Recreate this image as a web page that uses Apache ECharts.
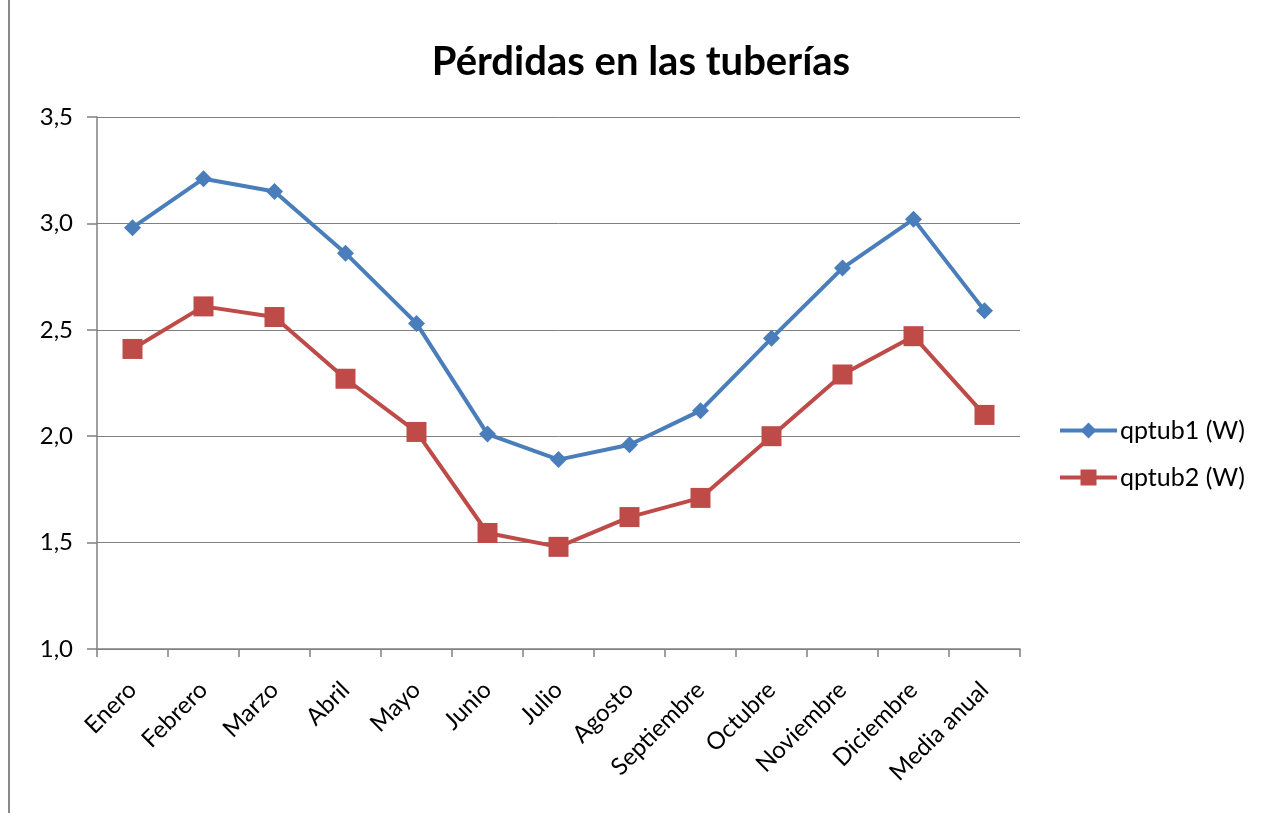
<!DOCTYPE html>
<html>
<head>
<meta charset="utf-8">
<script src="https://cdn.jsdelivr.net/npm/echarts@6/dist/echarts.min.js"></script>
<style>
  html, body { margin: 0; padding: 0; background: #fff; }
  #chart { height: 813px; box-sizing: border-box; border-left: 2px solid #888; margin-left: 8px; width: 1259px; }
</style>
</head>
<body>
<div id="chart"></div>
<script>
var months = ['Enero', 'Febrero', 'Marzo', 'Abril', 'Mayo', 'Junio', 'Julio', 'Agosto', 'Septiembre', 'Octubre', 'Noviembre', 'Diciembre', 'Media anual'];
var qptub1 = [2.98, 3.21, 3.15, 2.86, 2.53, 2.01, 1.89, 1.96, 2.12, 2.46, 2.79, 3.02, 2.59];
var qptub2 = [2.41, 2.61, 2.56, 2.27, 2.02, 1.545, 1.48, 1.62, 1.71, 2.0, 2.29, 2.47, 2.10];

var myChart = echarts.init(document.getElementById('chart'));

var font = 'Lato';

var options = {
  animation: false,
  title: {
    text: 'Pérdidas en las tuberías',
    left: 626,
    top: 37,
    textAlign: 'center',
    textStyle: { fontFamily: font, fontSize: 40, fontWeight: 'bold', color: '#000' }
  },
  legend: {
    orient: 'vertical',
    left: 1043,
    top: 413,
    itemWidth: 57,
    itemHeight: 20,
    itemGap: 22,
    lineStyle: { width: 4 },
    textStyle: { fontFamily: font, fontSize: 25, color: '#000', padding: [0, 0, 0, -2] },
    data: ['qptub1 (W)', 'qptub2 (W)']
  },
  grid: { left: 87, right: 247, top: 117, bottom: 164 },
  xAxis: {
    type: 'category',
    boundaryGap: true,
    data: months,
    axisLine: { lineStyle: { color: '#808080', width: 1.5 } },
    axisTick: { show: true, length: 8, lineStyle: { color: '#808080', width: 1.5 } },
    axisLabel: { rotate: 45, fontFamily: font, fontSize: 24, color: '#000', margin: 37 }
  },
  yAxis: {
    type: 'value',
    min: 1,
    max: 3.5,
    interval: 0.5,
    axisLine: { show: true, lineStyle: { color: '#808080', width: 1.5 } },
    axisTick: { show: true, length: 10, lineStyle: { color: '#808080', width: 1.5 } },
    splitLine: { lineStyle: { color: '#808080', width: 1 } },
    axisLabel: {
      fontFamily: font, fontSize: 24, color: '#000', margin: 24,
      formatter: function (v) { return v.toFixed(1).replace('.', ','); }
    }
  },
  series: [
    {
      name: 'qptub1 (W)',
      type: 'line',
      data: qptub1,
      symbol: 'diamond',
      symbolSize: 17,
      color: '#4A7EBB',
      lineStyle: { width: 4, color: '#4A7EBB' },
      itemStyle: { color: '#4A7EBB' }
    },
    {
      name: 'qptub2 (W)',
      type: 'line',
      data: qptub2,
      symbol: 'rect',
      symbolSize: 20,
      color: '#BE4B48',
      lineStyle: { width: 4, color: '#BE4B48' },
      itemStyle: { color: '#BE4B48' }
    }
  ]
};

myChart.setOption(options, true);
</script>
</body>
</html>
